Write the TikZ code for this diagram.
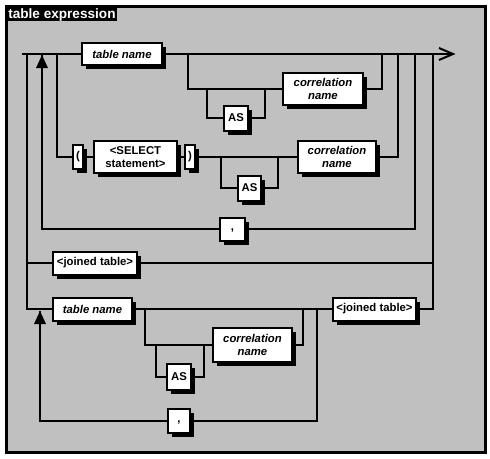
\documentclass[tikz,border=0pt]{standalone}
\usepackage{fontspec}
\setmainfont{Liberation Sans}
\usetikzlibrary{shadows}
\definecolor{bggray}{HTML}{C0C0C0}
\tikzset{
  ln/.style={line width=1.5pt},
  bx/.style={draw, fill=white, line width=1.5pt, inner sep=0pt, align=center,
    font=\fontsize{8.5}{9.8}\selectfont\bfseries,
    drop shadow={shadow xshift=3pt,shadow yshift=-3.2pt,fill=black,opacity=1}},
  it/.style={font=\fontsize{8.5}{9.8}\selectfont\bfseries\itshape},
  sz/.style n args={2}{minimum width=#1*0.75pt, minimum height=#2*0.75pt},
}
\begin{document}
\begin{tikzpicture}[x=0.75pt,y=-0.75pt]
\path[use as bounding box] (0,0) rectangle (490,458);
% frame
\draw[fill=bggray, line width=2.25pt] (6,6) rectangle (485,452);
\fill[black] (5,5) rectangle (117,21);
\node[anchor=base west, text=white, inner sep=0pt, font=\fontsize{10.2}{12}\selectfont\bfseries] (title) at (8,18) {table expression};

% nodes
\node[bx,it,sz={80}{22}] (tn1) at (122,54) {table name};
\node[bx,it,sz={80}{32}] (cn1) at (323,89) {correlation\\name};
\node[bx,sz={24}{25}] (as1) at (236,118) {AS};
\node[bx,sz={10}{24}] (lp) at (78,157) {(};
\node[bx,sz={83}{32}] (sel) at (135.5,157) {<SELECT\\statement>};
\node[bx,sz={10}{24}] (rp) at (190,157) {)};
\node[bx,it,sz={78}{32}] (cn2) at (337,157) {correlation\\name};
\node[bx,sz={23}{25}] (as2) at (249.5,188) {AS};
\node[bx,sz={25}{23}] (cm1) at (232.5,229) {\raisebox{-3pt}{,}};
\node[bx,sz={84}{23}] (jt1) at (95,263) {<joined table>};
\node[bx,it,sz={79}{23}] (tn2) at (92.5,309) {table name};
\node[bx,sz={83}{23}] (jt2) at (374.5,309) {<joined table>};
\node[bx,it,sz={79}{34}] (cn3) at (252.5,345) {correlation\\name};
\node[bx,sz={24}{26}] (as3) at (179,377) {AS};
\node[bx,sz={22}{24}] (cm2) at (179,421) {\raisebox{-3pt}{,}};

% junction coordinates
\coordinate (start) at (22,54);
\coordinate (fin) at (453,54);

\begin{scope}[ln]
% main line
\draw (start) -- (tn1.west);
\draw (tn1.east) -- (fin);
\draw (439,48) -- (fin) -- (439,60);
% correlation name 1
\draw (188,54) |- (cn1.west);
\draw (cn1.east) -| (382,54);
\draw (207,89) |- (as1.west);
\draw (as1.east) -| (265,89);
% row 2
\draw (57,54) |- (lp.west);
\draw (lp.east) -- (sel.west);
\draw (sel.east) -- (rp.west);
\draw (rp.east) -- (cn2.west);
\draw (cn2.east) -| (398,54);
\draw (221,157) |- (as2.west);
\draw (as2.east) -| (278,157);
% comma loop 1
\draw (415,54) |- (cm1.east);
\draw (cm1.west) -| (42,54);
% joined table 1 and row 5
\draw (27,54) |- (tn2.west);
\draw (27,263) -- (jt1.west);
\draw (jt1.east) -- (433,263);
\draw (433,54) |- (jt2.east);
\draw (tn2.east) -- (jt2.west);
\draw (145,309) |- (cn3.west);
\draw (cn3.east) -| (303,309);
\draw (156,345) |- (as3.west);
\draw (as3.east) -| (204,345);
% comma loop 2
\draw (317,309) |- (cm2.east);
\draw (cm2.west) -| (40,311);
\end{scope}
% arrowheads
\fill (42,55) -- (36,68) -- (48,68) -- cycle;
\fill (40,311) -- (34,324) -- (46,324) -- cycle;
\end{tikzpicture}
\end{document}
